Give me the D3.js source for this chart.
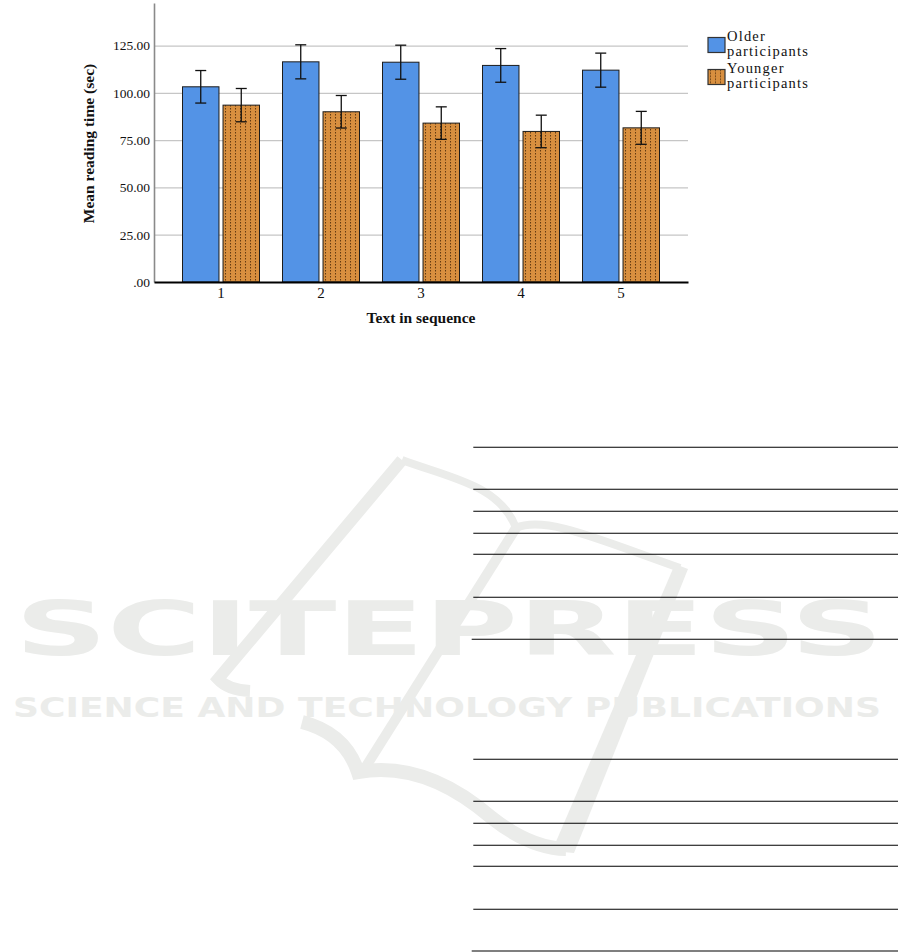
<!DOCTYPE html>
<html>
<head>
<meta charset="utf-8">
<script src="https://cdn.jsdelivr.net/npm/d3@7"></script>
<style>
  html, body { margin: 0; padding: 0; background: #fff; }
  svg { display: block; }
</style>
</head>
<body>
<svg id="chart" width="901" height="952"></svg>
<script>
// ---- data ----
const categories = ["1", "2", "3", "4", "5"];
const seriesNames = ["Older participants", "Younger participants"];
const olderMeans = [103.2, 116.4, 116.2, 114.5, 112.0];
const olderErr = [8.6, 9.0, 9.0, 8.9, 9.0];
const youngerMeans = [93.5, 90.0, 84.0, 79.6, 81.5];
const youngerErr = [8.8, 8.6, 8.6, 8.6, 8.7];
const yTicks = [0, 25, 50, 75, 100, 125];
const yTickLabels = [".00", "25.00", "50.00", "75.00", "100.00", "125.00"];
const legendLines = [["Older", "participants"], ["Younger", "participants"]];
const xTitle = "Text in sequence";
const yTitle = "Mean reading time (sec)";
const watermarkTitle = "SCITEPRESS";
const watermarkSub = "SCIENCE AND TECHNOLOGY PUBLICATIONS";
const tableRuleYs = [447.3, 489.3, 511.3, 533.3, 554.3, 597.3, 639.3, 759.3, 801.3, 823.3, 845.3, 866.3, 909.3, 951];

const seriesData = [
  { name: seriesNames[0], means: olderMeans, errs: olderErr },
  { name: seriesNames[1], means: youngerMeans, errs: youngerErr }
];
const rows = [];
categories.forEach((c, i) => {
  seriesData.forEach((s, k) => rows.push({ cat: c, series: s.name, k, mean: s.means[i], err: s.errs[i] }));
});

// ---- layout ----
const svg = d3.select("#chart");
const X0 = 154, X1 = 688, Y0 = 282, Y1 = 3;
const BLUE = "#5393e6", ORANGE = "#d88f3f";
const WM = "#ebecea";
const serif = "'Liberation Serif', 'Times New Roman', serif";

// ---- watermark ----
const wm = svg.append("g").attr("fill", WM);
wm.append("path").attr("d", "M402,460 L218,679 Q228,690 250,691")
  .attr("fill", "none").attr("stroke", WM).attr("stroke-width", 12);
wm.append("path").attr("d", "M402,460 C450,478 500,485 516,528 C545,515 600,540 680,568")
  .attr("fill", "none").attr("stroke", WM).attr("stroke-width", 8);
wm.append("path").attr("d", "M516,528 L365,768")
  .attr("fill", "none").attr("stroke", WM).attr("stroke-width", 10);
wm.append("path").attr("d", "M675,564 L688,569 L574,853 L552,851 Z");
wm.append("path").attr("d", "M302,722 Q345,733 358,772 Q425,760 492,818 Q530,848 566,849")
  .attr("fill", "none").attr("stroke", WM).attr("stroke-width", 14);
wm.append("text").attr("x", 15).attr("y", 655)
  .attr("font-family", "'DejaVu Sans', sans-serif").attr("font-weight", "bold").attr("font-size", 74)
  .attr("textLength", 868).attr("lengthAdjust", "spacingAndGlyphs").text(watermarkTitle);
wm.append("text").attr("x", 13).attr("y", 717)
  .attr("font-family", "'DejaVu Sans', sans-serif").attr("font-weight", "bold").attr("font-size", 26)
  .attr("textLength", 868).attr("lengthAdjust", "spacingAndGlyphs").text(watermarkSub);

// ---- table rules ----
svg.append("g").selectAll("line").data(tableRuleYs).join("line")
  .attr("x1", (d, i) => (i === 6 || i === 13) ? 471.7 : 473.3)
  .attr("x2", 898).attr("y1", d => d).attr("y2", d => d)
  .attr("stroke", "#000").attr("stroke-width", 1.1);

// ---- pattern ----
const defs = svg.append("defs");
const pat = defs.append("pattern").attr("id", "dots").attr("patternUnits", "userSpaceOnUse")
  .attr("width", 5).attr("height", 3);
pat.append("rect").attr("width", 5).attr("height", 3).attr("fill", ORANGE);
pat.append("rect").attr("x", 2).attr("y", 0).attr("width", 1).attr("height", 1.5).attr("fill", "#4a2a08").attr("opacity", 0.85);

// ---- scales ----
const x = d3.scaleBand().domain(categories).range([X0, X1]).paddingInner(0.23).paddingOuter(0.285);
const xs = d3.scaleBand().domain(seriesNames).range([0, x.bandwidth()]).paddingInner(0.1);
const y = d3.scaleLinear().domain([0, 147.5]).range([Y0, Y1]);

// gridlines
svg.append("g").attr("transform", `translate(${X0},0)`)
  .call(d3.axisLeft(y).tickValues(yTicks.filter(t => t > 0)).tickSize(-(X1 - X0)).tickFormat(""))
  .call(g => g.select(".domain").remove())
  .call(g => g.selectAll("line").attr("stroke", "#c6c6c6").attr("stroke-width", 1.2));

// y axis
svg.append("g").attr("transform", `translate(${X0},0)`)
  .call(d3.axisLeft(y).tickValues(yTicks).tickFormat((d, i) => yTickLabels[i]).tickSize(0).tickPadding(4))
  .call(g => g.select(".domain").attr("stroke", "#8a8a8a").attr("stroke-width", 1.6))
  .call(g => g.selectAll("text").attr("font-family", serif).attr("font-size", 13.5).attr("fill", "#111"));

// bars
const groups = svg.append("g").selectAll("g").data(rows).join("g")
  .attr("transform", d => `translate(${x(d.cat) + xs(d.series)},0)`);
groups.append("rect")
  .attr("x", 0).attr("width", xs.bandwidth())
  .attr("y", d => y(d.mean)).attr("height", d => y(0) - y(d.mean))
  .attr("fill", d => d.k === 0 ? BLUE : "url(#dots)")
  .attr("stroke", "#1c1c1c").attr("stroke-width", 1);

// error bars
const cx = xs.bandwidth() / 2, cap = 5.5;
groups.append("line").attr("x1", cx).attr("x2", cx)
  .attr("y1", d => y(d.mean + d.err)).attr("y2", d => y(d.mean - d.err))
  .attr("stroke", "#111").attr("stroke-width", 1.3);
groups.append("line").attr("x1", cx - cap).attr("x2", cx + cap)
  .attr("y1", d => y(d.mean + d.err)).attr("y2", d => y(d.mean + d.err))
  .attr("stroke", "#111").attr("stroke-width", 1.3);
groups.append("line").attr("x1", cx - cap).attr("x2", cx + cap)
  .attr("y1", d => y(d.mean - d.err)).attr("y2", d => y(d.mean - d.err))
  .attr("stroke", "#111").attr("stroke-width", 1.3);

// x axis
svg.append("g").attr("transform", `translate(0,${Y0})`)
  .call(d3.axisBottom(x).tickSize(0).tickPadding(5))
  .call(g => g.select(".domain").attr("stroke", "#000").attr("stroke-width", 2.2))
  .call(g => g.selectAll("text").attr("font-family", serif).attr("font-size", 15).attr("fill", "#111"));

// titles
svg.append("text").attr("x", (X0 + X1) / 2).attr("y", 323).attr("text-anchor", "middle")
  .attr("font-family", serif).attr("font-weight", "bold").attr("font-size", 15.5).attr("fill", "#111")
  .text(xTitle);
svg.append("text").attr("transform", "translate(94,143.5) rotate(-90)").attr("text-anchor", "middle")
  .attr("font-family", serif).attr("font-weight", "bold").attr("font-size", 15.5).attr("fill", "#111")
  .text(yTitle);

// legend
const lg = svg.append("g").selectAll("g").data(seriesNames).join("g")
  .attr("transform", (d, i) => `translate(708,${37.5 + i * 32})`);
lg.append("rect").attr("width", 17).attr("height", 15)
  .attr("fill", (d, i) => i === 0 ? BLUE : "url(#dots)")
  .attr("stroke", "#333").attr("stroke-width", 1.2);
lg.each(function (d, i) {
  const g = d3.select(this);
  legendLines[i].forEach((ln, j) => {
    g.append("text").attr("x", 19).attr("y", 3 + j * 15.5)
      .attr("font-family", serif).attr("font-size", 14.5).attr("letter-spacing", 1.2)
      .attr("fill", "#111").text(ln);
  });
});
</script>
</body>
</html>
